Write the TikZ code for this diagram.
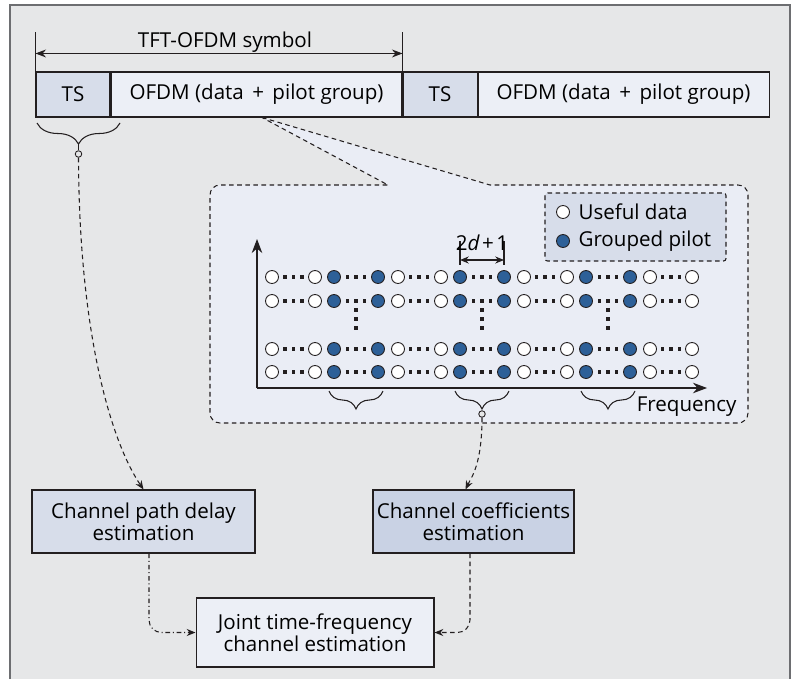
\documentclass[tikz,border=0pt]{standalone}
\usepackage{fontspec}
\setmainfont{Open Sans}
\usetikzlibrary{arrows.meta, positioning, calc, decorations.pathreplacing}
\definecolor{framebg}{HTML}{E6E7E8}
\definecolor{framegray}{HTML}{6D6E71}
\definecolor{linedark}{HTML}{231F20}
\definecolor{tsfill}{HTML}{D7DDEA}
\definecolor{ofdmfill}{HTML}{ECEFF6}
\definecolor{callfill}{HTML}{EAEDF5}
\definecolor{coefffill}{HTML}{C9D2E4}
\definecolor{pilotblue}{HTML}{2D6098}
\newcommand{\mainfs}{\fontsize{11.7}{12.6}\selectfont}
\tikzset{
  field/.style={draw=linedark, minimum height=0.9cm, inner sep=0pt, font=\mainfs},
  estbox/.style={draw=linedark, inner sep=0pt, align=center, font=\mainfs},
  datadot/.style={draw=linedark, fill=white, line width=0.5pt},
  pilotdot/.style={draw=linedark, fill=pilotblue, line width=0.5pt},
  tapdot/.style={circle, draw=linedark, fill=framebg, line width=0.5pt, minimum size=0.13cm, inner sep=0pt},
  dashline/.style={draw=linedark, dash pattern=on 2.6pt off 2pt},
  dashdotline/.style={draw=linedark, dash pattern=on 2.6pt off 1.6pt on 0.6pt off 1.6pt},
  tip/.style={-{Stealth[length=5pt,width=4pt]}}
}

\begin{document}
\begin{tikzpicture}[x=0.02cm, y=-0.02cm, line width=0.6pt]
  \useasboundingbox (0,0) rectangle (797,679);

  % Outer frame
  \fill[framebg] (10,5) rectangle (790,679);
  \draw[framegray, line width=0.9pt] (10,679) -- (10,5) -- (790,5) -- (790,679);

  % Symbol row
  \node[field, fill=tsfill, minimum width=1.48cm] (ts1) at (73,94.5) {TS};
  \node[field, fill=ofdmfill, minimum width=5.82cm, right=0pt of ts1] (ofdm1) {OFDM (data\hspace{0.15em} + \hspace{0.15em}pilot group)};
  \node[field, fill=tsfill, minimum width=1.48cm, right=0pt of ofdm1] (ts2) {TS};
  \node[field, fill=ofdmfill, minimum width=5.82cm, right=0pt of ts2] (ofdm2) {OFDM (data\hspace{0.15em} + \hspace{0.15em}pilot group)};

  % Symbol length
  \draw[linedark] (ts1.north west) -- +(0,-39);
  \draw[linedark] (ts2.north west) -- +(0,-39);
  \draw[linedark, {Stealth[length=6pt,width=4.5pt]}-{Stealth[length=6pt,width=4.5pt]}]
    ($(ts1.north west)+(0,-18)$) -- ($(ts2.north west)+(0,-18)$);
  \node[font=\mainfs, anchor=base] (symlabel) at (225,48) {TFT-OFDM symbol};

  % Zoomed callout
  \coordinate (zoomfrom) at ([xshift=0.11cm]ofdm1.south);
  \filldraw[fill=callfill, dashline]
    (zoomfrom) -- (490,185) [rounded corners=0.2cm] -- (748,185) -- (748,423)
    -- (210,423) -- (210,185) [sharp corners] -- (388,185) -- cycle;

  % Legend
  \filldraw[fill=tsfill, dashline, rounded corners=0.05cm] (545,193) rectangle (726,261);
  \draw[datadot] (563,212) circle[radius=0.13cm];
  \draw[pilotdot] (563,241) circle[radius=0.13cm];
  \node[font=\mainfs, anchor=west, inner sep=0pt] (legdata) at (578,212) {Useful data};
  \node[font=\mainfs, anchor=west, inner sep=0pt] (legpilot) at (578,241) {Grouped pilot};

  % Axes
  \coordinate (origin) at (257,388);
  \draw[linedark, -{Stealth[length=8pt,width=6pt]}] (origin) -- (257,239);
  \draw[linedark, -{Stealth[length=8pt,width=6pt]}] (origin) -- (707,388);
  \node[font=\mainfs, anchor=base east, inner sep=0pt] (freqlabel) at (737,411) {Frequency};

  % Sub-carrier rows
  \foreach \ry in {277,301,349,372} {
    \foreach \m in {293.5,356,482,608,419,545,671}
      \foreach \k in {-8.5,0,8.5}
        \fill[linedark] ({\m+\k-1.6},{\ry-1.6}) rectangle ++(3.2,3.2);
    \draw[datadot] (272,\ry) circle[radius=0.13cm];
    \foreach \b in {334,460,586} {
      \draw[datadot] (\b-19,\ry) circle[radius=0.13cm];
      \draw[pilotdot] (\b,\ry) circle[radius=0.13cm];
      \draw[pilotdot] (\b+44,\ry) circle[radius=0.13cm];
      \draw[datadot] (\b+64,\ry) circle[radius=0.13cm];
    }
    \draw[datadot] (692,\ry) circle[radius=0.13cm];
  }
  % Skipped rows
  \foreach \b in {334,460,586}
    \foreach \vy in {310,319,328}
      \fill[linedark] ({\b+22-1.6},{\vy-1.6}) rectangle ++(3.2,3.2);

  % Pilot group width
  \draw[linedark] (460,241) -- (460,265);
  \draw[linedark] (504,241) -- (504,265);
  \draw[linedark, {Stealth[length=5pt,width=4pt]}-{Stealth[length=5pt,width=4pt]}] (460,260) -- (504,260);
  \node[font=\mainfs, anchor=base, inner sep=0pt] (grouplabel) at (482,250) {2\textit{d}\hspace{0.12em}+\hspace{0.12em}1};

  % Braces
  \draw[linedark, decorate, decoration={brace, mirror, amplitude=0.42cm}] (37,123) -- (120,123);
  \node[tapdot] (tstap) at (78.5,154) {};
  \draw[linedark] (78.5,144) -- (tstap.north);
  \foreach \b in {334,460,586}
    \draw[linedark, decorate, decoration={brace, mirror, amplitude=0.36cm}] (\b-5,391) -- (\b+49,391);
  \node[tapdot] (pilottap) at (482,414) {};

  % Estimation blocks
  \node[estbox, fill=tsfill, minimum width=4.46cm, minimum height=1.26cm] (delay) at (143.5,521.5) {Channel path delay\\estimation};
  \node[estbox, fill=coefffill, minimum width=4.02cm, minimum height=1.26cm] (coeff) at (473.5,521.5) {Channel coefficients\\estimation};
  \node[estbox, fill=ofdmfill, minimum width=4.76cm, minimum height=1.38cm] (joint) at (315,632.5) {Joint time-frequency\\channel estimation};

  % Connectors
  \draw[dashline, tip] (tstap.south) .. controls (79,330) and (110,440) .. (delay.north);
  \draw[dashline, tip] (pilottap.south) .. controls (482,465) and (471,478) .. ([xshift=-0.16cm]coeff.north);
  \draw[dashdotline, tip, rounded corners=0.25cm] ([xshift=0.11cm]delay.south) |- (joint.west);
  \draw[dashline, tip, rounded corners=0.25cm] ([xshift=-0.07cm]coeff.south) |- (joint.east);
\end{tikzpicture}
\end{document}
